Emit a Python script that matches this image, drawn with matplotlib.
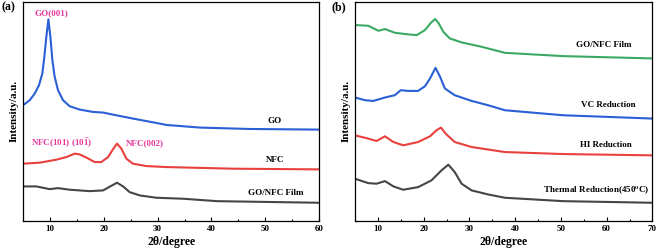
import matplotlib
matplotlib.use("Agg")
import matplotlib.pyplot as plt
from matplotlib.ticker import MultipleLocator

plt.rcParams['font.family'] = ['Liberation Serif', 'DejaVu Serif']
plt.rcParams['font.weight'] = 'bold'
plt.rcParams['mathtext.fontset'] = 'stix'

# ---- panel (a) data (intensity in arbitrary units) ----
go_x = [5, 6.24, 7.17, 7.97, 8.59, 8.96, 9.33, 9.71, 10.08, 10.45, 10.88, 11.5,
        12.43, 13.67, 15.5, 18, 19.86, 22.3, 25.4, 29.8, 31.7, 37.9, 47.2, 60]
go_y = [115, 120, 126.7, 135, 146.7, 163.3, 183.3, 200.7, 183.3, 160, 143.3, 130,
        120, 114, 110.7, 108.3, 107.7, 105, 101.7, 97.3, 95.3, 92.7, 91.3, 90.7]

nfc_x = [5, 8.1, 11.2, 13.05, 14.6, 15.5, 16.8, 18.3, 19.55, 20.8, 21.7, 22.46,
         23.27, 24.2, 25.4, 27.9, 31.7, 44, 60]
nfc_y = [56.7, 57.7, 60.7, 63.3, 66.7, 66, 62.7, 58.3, 58.3, 63.3, 71, 76.7,
         71.7, 61.7, 56.7, 54.3, 53.3, 51.7, 51]

film_a_x = [5, 7.48, 9.95, 11.5, 13.67, 17.4, 19.86, 21.2, 22.46, 23.6, 24.8,
            26.7, 29.8, 34.8, 41, 60]
film_a_y = [34, 34, 31.3, 32.3, 30.7, 29.3, 30, 34, 37.7, 34, 28.3,
            25, 22.7, 21.7, 19.3, 17.7]

# ---- panel (b) data ----
film_b_x = [5, 7.9, 10.1, 11.55, 13.7, 16.6, 18.5, 20.3, 21.6, 22.5, 23.3, 24.3,
            25.7, 28.3, 32.7, 37.75, 50.5, 70]
film_b_y = [195, 194.3, 189.3, 191, 187.3, 185.7, 185, 190, 197.3, 201, 196.7, 188.3,
            181.7, 177.7, 173.3, 167.3, 164, 161.7]

vc_x = [5, 7.2, 9, 11.55, 13.7, 15, 16.6, 18.8, 20.3, 21.4, 22.6, 23.6, 24.65,
        26.8, 30.5, 34.1, 37.75, 50.5, 70]
vc_y = [122.7, 120, 119.3, 122.7, 125, 130, 129.3, 129.3, 134, 141.7, 152.3, 143.3, 131.7,
        125, 119.3, 115, 110, 105, 101.7]

hi_x = [5, 7.9, 9.7, 11.55, 13.4, 15.55, 18.8, 21.4, 22.8, 23.8, 24.8, 26.8,
        30.5, 37.75, 50.5, 70]
hi_y = [85, 81.7, 79.3, 84, 78.3, 75, 78.3, 84, 90, 92.7, 86.7, 78.3,
        73.3, 68.3, 66.3, 65]

thermal_x = [5, 7.9, 9.7, 11.55, 13.4, 15.55, 18.8, 21.7, 23.9, 25.4, 26.8, 28.3,
             30.5, 34.1, 37.75, 50.5, 70]
thermal_y = [41.7, 37.3, 36.7, 39.3, 34, 30.7, 33.3, 40, 50, 55.7, 48.3, 36.7,
             30, 26, 22.7, 19.3, 17.7]

blue = '#2a5fd6'
red = '#e8403c'
green = '#3aaa62'
gray = '#454545'
pink = '#e6399b'
lw = 1.5
fs = 6.5

fig = plt.figure(figsize=(6.58, 2.5), dpi=100)
ax1 = fig.add_axes([0.035, 0.118, 0.450, 0.874])
ax2 = fig.add_axes([0.5395, 0.118, 0.452, 0.874])

ax1.plot(go_x, go_y, color=blue, lw=lw)
ax1.plot(nfc_x, nfc_y, color=red, lw=lw)
ax1.plot(film_a_x, film_a_y, color=gray, lw=lw)

ax2.plot(film_b_x, film_b_y, color=green, lw=lw)
ax2.plot(vc_x, vc_y, color=blue, lw=lw)
ax2.plot(hi_x, hi_y, color=red, lw=lw)
ax2.plot(thermal_x, thermal_y, color=gray, lw=lw)

# curve labels
ax1.text(51.8, 99, 'GO', fontsize=fs, ha='center', va='center')
ax1.text(51.8, 60, 'NFC', fontsize=fs, ha='center', va='center')
ax1.text(52, 27, 'GO/NFC Film', fontsize=fs, ha='center', va='center')

ax1.text(10.3, 207, 'GO(001)', fontsize=fs, color=pink, ha='center', va='center')
ax1.text(12.2, 77, r'NFC(101) (10$\mathbf{\bar{1}}$)', fontsize=fs, color=pink,
         ha='center', va='center')
ax1.text(27.7, 77, 'NFC(002)', fontsize=fs, color=pink, ha='center', va='center')

ax2.text(59.3, 175, 'GO/NFC Film', fontsize=fs, ha='center', va='center')
ax2.text(60.4, 115.7, 'VC Reduction', fontsize=fs, ha='center', va='center')
ax2.text(59.9, 75.7, 'HI Reduction', fontsize=fs, ha='center', va='center')
ax2.text(57.8, 29.3, 'Thermal Reduction(450$^{\\mathbf{o}}$C)', fontsize=fs,
         ha='center', va='center')

for ax, xmax in ((ax1, 60), (ax2, 70)):
    ax.set_xlim(5, xmax)
    ax.set_ylim(0, 218)
    ax.set_yticks([])
    ax.xaxis.set_major_locator(MultipleLocator(10))
    ax.xaxis.set_minor_locator(MultipleLocator(5))
    ax.tick_params(axis='x', which='major', direction='in', length=3, width=0.8,
                   labelsize=fs, pad=3)
    ax.tick_params(axis='x', which='minor', direction='in', length=1.5, width=0.8)
    for lab in ax.get_xticklabels():
        lab.set_fontweight('bold')
    for sp in ax.spines.values():
        sp.set_linewidth(0.9)
    ax.set_xlabel('2θ/degree', fontsize=8.5, fontweight='bold', labelpad=2.5)
    ax.set_ylabel('Intensity/a.u.', fontsize=8, fontweight='bold', labelpad=3)

fig.text(0.013, 0.972, '(a)', fontsize=8.5, fontweight='bold', ha='center', va='center')
fig.text(0.515, 0.972, '(b)', fontsize=8.5, fontweight='bold', ha='center', va='center')

fig.savefig('out.png', dpi=100)
